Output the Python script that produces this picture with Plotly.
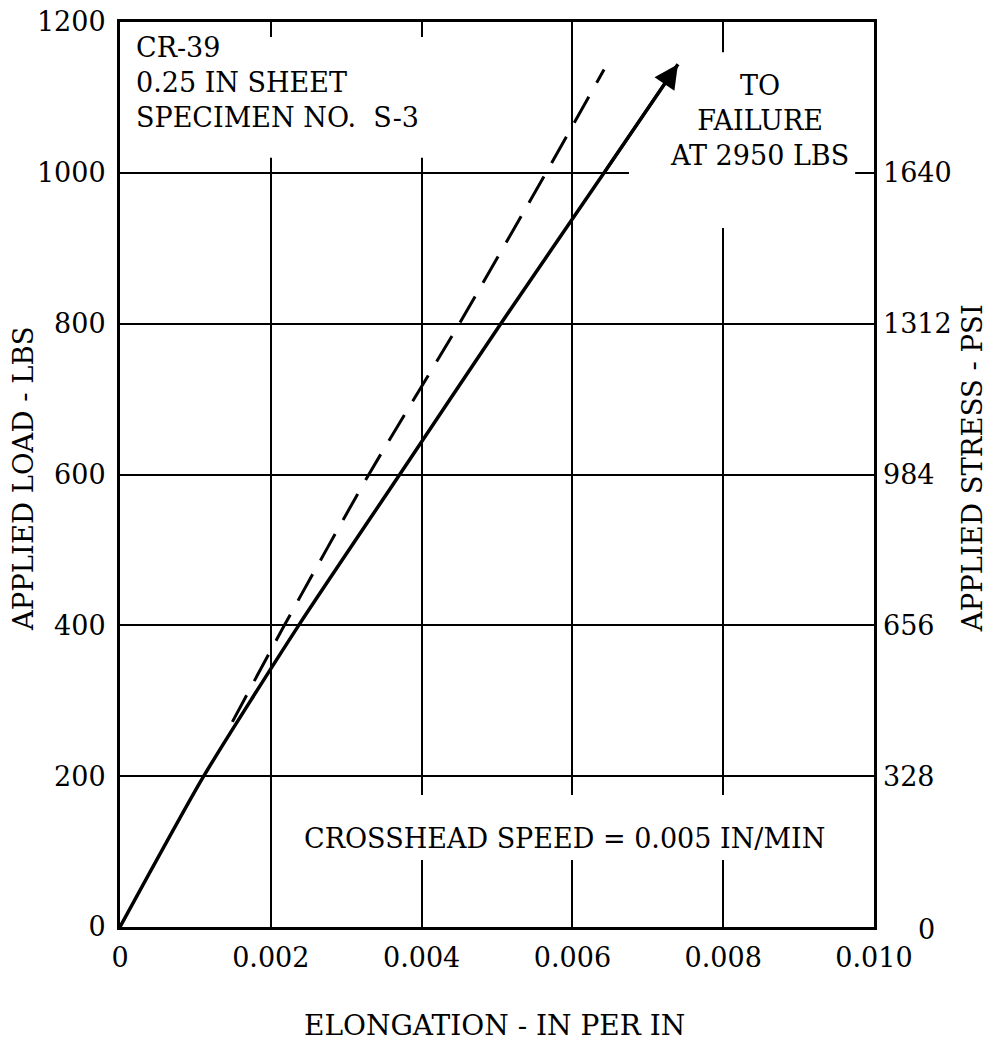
import plotly.graph_objects as go

# ---- data ----
load_ticks = [0, 200, 400, 600, 800, 1000, 1200]
elong_ticks = [0, 0.002, 0.004, 0.006, 0.008, 0.010]
elong_tick_text = ["0", "0.002", "0.004", "0.006", "0.008", "0.010"]
stress_ticks = [0, 328, 656, 984, 1312, 1640]
stress_per_load = 1.64  # 1640 psi <-> 1000 lbs

solid_elong = [0.0, 0.00111, 0.00237, 0.00371, 0.00505, 0.00642, 0.00740]
solid_load = [0, 200, 400, 600, 800, 1000, 1144]

dashed_elong = [0.00149, 0.00218, 0.00330, 0.00450, 0.00565, 0.00642]
dashed_load = [272, 400, 600, 800, 1000, 1137]

FONT = "DejaVu Serif"

fig = go.Figure()
fig.add_trace(go.Scatter(x=solid_elong, y=solid_load, mode="lines",
                         line=dict(color="black", width=3.5, shape="spline", smoothing=0.6),
                         showlegend=False, hoverinfo="skip"))
fig.add_trace(go.Scatter(x=dashed_elong, y=dashed_load, mode="lines",
                         line=dict(color="black", width=3, dash="30px,16px",
                                   shape="spline", smoothing=0.6),
                         showlegend=False, hoverinfo="skip"))
# invisible trace so the right stress axis exists
fig.add_trace(go.Scatter(x=[0] * len(stress_ticks), y=stress_ticks, yaxis="y2",
                         mode="markers", marker=dict(opacity=0), showlegend=False,
                         hoverinfo="skip"))

# white masks that interrupt the grid behind the notes
for x0, x1, y0, y1 in [(0.0, 0.0041, 1020, 1180),
                       (0.00675, 0.00975, 927, 1160),
                       (0.00225, 0.00954, 89, 175)]:
    fig.add_shape(type="rect", xref="x", yref="y", x0=x0, x1=x1, y0=y0, y1=y1,
                  fillcolor="white", line=dict(width=0), layer="between")

ann = []
# arrow head at end of solid line
ann.append(dict(x=solid_elong[-1], y=solid_load[-1], ax=solid_elong[-2], ay=solid_load[-2],
                xref="x", yref="y", axref="x", ayref="y", text="", showarrow=True,
                arrowhead=2, arrowsize=1.6, arrowwidth=3, arrowcolor="black", standoff=0))
ann.append(dict(x=0.00019, y=1120, xref="x", yref="y", xanchor="left", yanchor="middle",
                align="left", showarrow=False,
                text="CR-39<br>0.25 IN SHEET<br>SPECIMEN NO.  S-3",
                font=dict(family=FONT, size=27, color="black")))
ann.append(dict(x=0.00848, y=1070, xref="x", yref="y", xanchor="center", yanchor="middle",
                align="center", showarrow=False,
                text="TO<br>FAILURE<br>AT 2950 LBS",
                font=dict(family=FONT, size=27, color="black")))
ann.append(dict(x=0.00589, y=118, xref="x", yref="y", xanchor="center", yanchor="middle",
                showarrow=False, text="CROSSHEAD SPEED = 0.005 IN/MIN",
                font=dict(family=FONT, size=27, color="black")))
# axis titles
ann.append(dict(x=-0.1286, y=0.495, xref="paper", yref="paper", textangle=-90,
                xanchor="center", yanchor="middle",
                showarrow=False, text="APPLIED LOAD - LBS",
                font=dict(family=FONT, size=27.5, color="black")))
ann.append(dict(x=1.130, y=0.507, xref="paper", yref="paper", textangle=-90,
                xanchor="center", yanchor="middle",
                showarrow=False, text="APPLIED STRESS - PSI",
                font=dict(family=FONT, size=27.5, color="black")))
ann.append(dict(x=0.497, y=-0.109, xref="paper", yref="paper",
                xanchor="center", yanchor="middle",
                showarrow=False, text="ELONGATION - IN PER IN",
                font=dict(family=FONT, size=28, color="black")))
# offset zero on right axis
ann.append(dict(x=1.07, y=-0.003, xref="paper", yref="paper", showarrow=False,
                xanchor="center", yanchor="middle",
                text=str(stress_ticks[0]), font=dict(family=FONT, size=27, color="black")))

fig.update_layout(
    width=996, height=1043,
    margin=dict(l=120, r=122, t=22, b=116, autoexpand=False),
    paper_bgcolor="white", plot_bgcolor="white",
    annotations=ann,
    xaxis=dict(range=[0, 0.010], tickvals=elong_ticks, ticktext=elong_tick_text,
               showgrid=True, gridcolor="black", gridwidth=1.8, zeroline=False,
               showline=True, linecolor="black", linewidth=3, mirror=True,
               ticks="", ticklabelstandoff=5, automargin=False,
               ticklabeloverflow="allow",
               tickfont=dict(family=FONT, size=27, color="black")),
    yaxis=dict(range=[0, 1200], tickvals=load_ticks,
               showgrid=True, gridcolor="black", gridwidth=1.8, zeroline=False,
               showline=True, linecolor="black", linewidth=3, mirror=True,
               ticks="", ticklabelstandoff=6, automargin=False,
               ticklabeloverflow="allow",
               tickfont=dict(family=FONT, size=27, color="black")),
    yaxis2=dict(range=[0, 1200 * stress_per_load], overlaying="y", side="right",
                tickvals=stress_ticks[1:], showgrid=False, zeroline=False,
                showline=False, ticks="", ticklabelstandoff=8, automargin=False,
                ticklabeloverflow="allow",
                tickfont=dict(family=FONT, size=27, color="black")),
)

fig.write_html("out.html", config={"displayModeBar": False},
               post_script="document.body.style.margin='0';")
